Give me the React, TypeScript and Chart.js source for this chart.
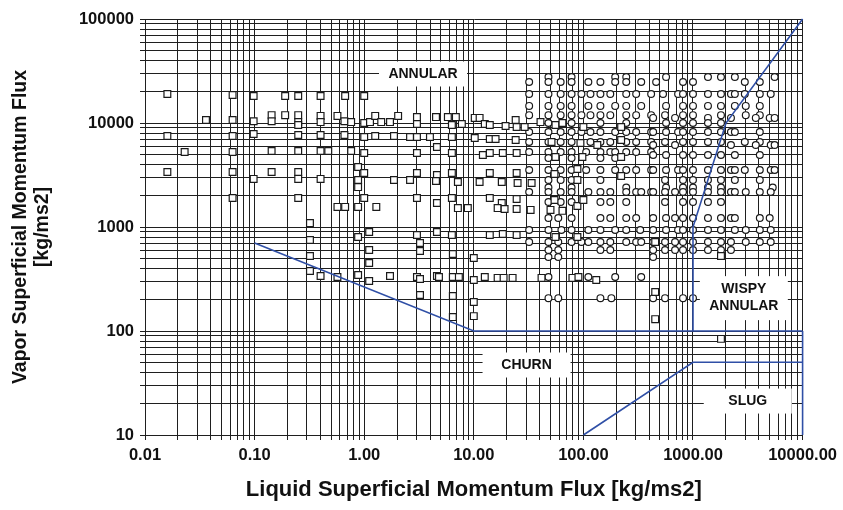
import React, { useEffect, useRef } from 'react';
import { Chart, registerables } from 'chart.js';

Chart.register(...registerables);

// Axis tick labels (decades)
const xTickLabels = ['0.01', '0.10', '1.00', '10.00', '100.00', '1000.00', '10000.00'];
const yTickLabels = ['10', '100', '1000', '10000', '100000'];

const xTitle = 'Liquid Superficial Momentum Flux [kg/ms2]';
const yTitle = ['Vapor Superficial Momentum Flux', '[kg/ms2]'];

// Open squares: [liquid flux, vapor flux]
const squarePoints: [number, number][] = [
  [0.016, 19000], [0.063, 18600], [0.098, 18200], [0.19, 18200], [0.25, 18200],
  [0.036, 10700], [0.063, 10700], [0.098, 10400], [0.143, 11900], [0.143, 10400], [0.19, 11900], [0.25, 11900], [0.25, 10200], [0.25, 9570],
  [0.016, 7500], [0.063, 7500], [0.098, 7840], [0.25, 7670],
  [0.023, 5260], [0.063, 5260], [0.143, 5380], [0.25, 5380],
  [0.016, 3380], [0.063, 3380], [0.143, 3380], [0.25, 3380], [0.25, 2900], [0.098, 2900],
  [0.063, 1900], [0.25, 1900], [0.32, 1090],
  [0.4, 18200], [0.67, 18200], [1.0, 18200],
  [0.4, 11700], [0.4, 10200], [0.57, 11700], [0.66, 10400], [0.76, 10200], [1.0, 10000], [1.13, 10200], [1.26, 11700], [1.43, 10200], [1.72, 10200], [2.04, 11700],
  [3.03, 11400], [3.03, 9780], [4.52, 11400], [5.8, 11400], [6.86, 11400], [6.31, 9570], [7.78, 9780], [10.2, 11200], [11.3, 11200], [12.6, 9780], [14.0, 9570], [19.5, 9360], [24.1, 10700], [24.6, 9160],
  [0.4, 7670], [0.66, 7670], [1.0, 7330], [1.26, 7500], [1.87, 7500], [2.62, 7330], [3.03, 7330], [3.98, 7330], [6.31, 7330], [10.2, 7180], [14.0, 7020], [15.8, 7020], [24.1, 6870],
  [0.4, 5380], [0.47, 5380], [0.76, 5380], [1.0, 5150], [3.03, 5150], [4.61, 5880], [6.31, 5150], [12.1, 4920], [14.0, 5150], [18.4, 5150], [24.6, 5150],
  [0.88, 3770], [1.0, 3300], [3.03, 3300], [4.61, 3160], [6.31, 3300], [14.0, 3300], [24.6, 3300],
  [0.4, 2900], [0.88, 2830], [1.87, 2830], [2.62, 2830], [4.52, 2770], [7.16, 2710], [11.3, 2710], [18.0, 2710], [25.1, 2650], [0.88, 2420],
  [1.0, 1900], [3.03, 1900], [6.31, 1900], [14.0, 1900], [24.6, 1860], [4.61, 1700], [18.0, 1700],
  [0.57, 1560], [0.67, 1560], [0.88, 1560], [1.29, 1560], [7.16, 1520], [8.82, 1520], [16.5, 1520], [19.1, 1490], [24.6, 1490],
  [1.11, 895], [0.88, 802], [3.03, 838], [4.61, 895], [6.31, 838], [14.0, 838], [18.4, 857], [24.6, 838],
  [0.32, 750], [3.23, 701], [1.11, 601], [3.23, 588], [0.32, 526], [1.11, 451], [6.44, 550], [10.0, 504],
  [0.32, 378], [0.4, 338], [0.57, 330], [0.88, 345], [1.11, 303], [1.72, 338], [3.03, 330], [3.23, 316], [4.61, 338], [4.81, 330], [6.44, 330], [7.31, 330], [10.0, 309], [12.6, 330], [16.5, 324], [18.7, 324], [22.6, 324],
  [3.23, 222], [6.44, 217], [10.0, 190], [6.44, 136], [10.0, 139],
  [29.1, 9160], [40.6, 10200], [55.6, 9570], [64.4, 10000], [100, 9160], [221, 9160],
  [51.2, 6570], [94, 6430], [134, 6140], [221, 6870],
  [55.6, 4710], [97.9, 4710], [221, 4710],
  [88.2, 3610], [54.5, 3230], [88.2, 2830], [33.7, 2650], [221, 3090],
  [33, 1460], [54.5, 1820], [50.1, 1460], [64.4, 1430], [88.2, 1590], [100, 1820],
  [55.6, 802], [88.2, 802],
  [41.5, 324], [79.4, 324], [90.1, 330], [131, 309],
  [452, 718], [452, 237], [452, 130], [1800, 526], [1800, 84],
];

// Open circles, listed per vapor-flux row: [vapor flux, liquid fluxes]
const circleRows: [number, number[]][] = [
  [27700, [48, 78, 195, 246, 568, 1370, 1800, 2410, 5560]],
  [24800, [32, 48, 62, 78, 111, 143, 195, 246, 337, 461, 811, 1000, 2970, 4070]],
  [19000, [32, 48, 62, 78, 96, 116, 143, 176, 246, 303, 415, 533, 731, 811, 1000, 1370, 1800, 2220, 2410, 2970, 4070, 5120]],
  [14600, [32, 48, 62, 78, 111, 143, 195, 246, 337, 568, 811, 1000, 1370, 1800, 2410, 3030, 4070]],
  [11900, [32, 48, 62, 78, 96, 116, 143, 176, 246, 303, 415, 556, 811, 1000, 1800, 3030, 4070]],
  [11200, [433, 686, 1370, 2220, 3740, 5010, 5560]],
  [10000, [48, 78, 143, 246, 568, 811, 1000, 1370, 1800]],
  [8190, [32, 48, 62, 78, 96, 116, 143, 195, 246, 303, 415, 433, 568, 731, 811, 1000, 1370, 1800, 2220, 2410, 4070]],
  [6570, [32, 48, 62, 78, 116, 143, 176, 246, 303, 415, 556, 811, 1000, 1370, 1800, 2970, 4070]],
  [6140, [433, 686, 2220, 3740, 5120, 5560]],
  [5260, [32, 48, 62, 78, 106, 143, 176, 195, 246, 303, 415]],
  [4920, [433, 568, 811, 1000, 1370, 1800, 2410, 4070]],
  [4600, [48, 78, 143, 195]],
  [3530, [32, 48, 62, 78, 106, 143, 195, 246, 303, 415, 433, 568, 731, 811, 1000, 1370, 1800, 2220, 2410, 2970, 4070, 5120, 5560]],
  [2830, [48, 62, 78, 143, 556, 811, 1000, 1370, 1800, 2410, 4070]],
  [2400, [48, 78, 246, 568, 811, 1000, 1370, 1800, 5340]],
  [2170, [32, 48, 62, 78, 111, 143, 176, 246, 303, 337, 415, 433, 556, 686, 811, 1000, 1370, 1800, 2220, 2410, 3030, 4070, 5120]],
  [1740, [48, 62, 78, 143, 176, 246, 556, 811, 1000, 1370, 1800]],
  [1220, [48, 59, 78, 143, 176, 246, 303, 433, 568, 686, 811, 1000, 1370, 1800, 2220, 2410, 4070, 5010]],
  [935, [32, 48, 63, 78, 111, 143, 195, 246, 330, 433, 568, 731, 811, 1000, 1370, 1800, 2410, 3030, 4070, 5120]],
  [718, [32, 48, 59, 78, 96, 111, 143, 176, 246, 303, 337, 433, 556, 686, 811, 1000, 1370, 1800, 2220, 3030, 4070, 5120]],
  [601, [48, 59, 143, 176, 433, 556, 686, 811, 1000, 1370, 1800, 2220]],
  [515, [48, 59, 433]],
  [330, [48, 111, 195, 337]],
  [207, [48, 59, 143, 180, 433, 556, 811, 1000]],
];

// Flow-regime boundaries
const boundaryAnnularChurn: [number, number][] = [[0.1, 700], [10, 100], [10000, 100]];
const boundaryWispy: [number, number][] = [[1000, 100], [1000, 1000], [2000, 10000], [10000, 100000]];
const boundarySlug: [number, number][] = [[100, 10], [1000, 50], [10000, 50]];
const boundaryRight: [number, number][] = [[10000, 10], [10000, 100]];

// Region labels anchored in data coordinates
const regionNames: string[][] = [['ANNULAR'], ['CHURN'], ['WISPY', 'ANNULAR'], ['SLUG']];
const regionX: number[] = [3.44, 30.3, 2910, 3160];
const regionY: number[] = [29600, 47.1, 207, 21.2];

const FONT = '"Liberation Sans", Arial, Helvetica, sans-serif';

function decadeTicks(labels: string[]) {
  const vals = labels.map((l) => parseFloat(l));
  const out: { value: number }[] = [];
  for (let i = 0; i < vals.length - 1; i++) {
    for (let m = 1; m <= 9; m++) out.push({ value: m * vals[i] });
  }
  out.push({ value: vals[vals.length - 1] });
  return out;
}

function labelFor(labels: string[], v: number) {
  for (const l of labels) {
    const n = parseFloat(l);
    if (Math.abs(v / n - 1) < 1e-6) return l;
  }
  return '';
}

export default function App() {
  const ref = useRef<HTMLCanvasElement | null>(null);

  useEffect(() => {
    if (!ref.current) return;
    const toPts = (arr: [number, number][]) => arr.map(([x, y]) => ({ x, y }));
    const squares = toPts(squarePoints);
    const circles = circleRows.flatMap(([y, xs]) => xs.map((x) => ({ x, y })));
    const blue = '#2f4fa6';
    const lineDs = (label: string, data: [number, number][]) => ({
      label,
      data: toPts(data),
      showLine: true,
      borderColor: blue,
      backgroundColor: blue,
      borderWidth: 1.6,
      pointRadius: 0,
      pointHoverRadius: 0,
      fill: false,
      tension: 0,
      clip: false as any,
    });

    const labelPlugin = {
      id: 'regionLabels',
      beforeDatasetsDraw(chart: any) {
        const { ctx } = chart;
        const xs = chart.scales.x;
        const ys = chart.scales.y;
        ctx.save();
        ctx.font = `bold 14px ${FONT}`;
        ctx.textAlign = 'center';
        ctx.textBaseline = 'middle';
        regionNames.forEach((lines, i) => {
          const cx = xs.getPixelForValue(regionX[i]);
          const cy = ys.getPixelForValue(regionY[i]);
          const lh = 17;
          const w = 88;
          const h = lines.length > 1 ? 44 : 25;
          ctx.fillStyle = '#ffffff';
          ctx.fillRect(cx - w / 2, cy - h / 2, w, h);
          ctx.fillStyle = '#111111';
          lines.forEach((t, j) => {
            ctx.fillText(t, cx, cy + (j - (lines.length - 1) / 2) * lh);
          });
        });
        ctx.restore();
      },
    };

    const gridColor = '#1f1f1f';

    const chart = new Chart(ref.current, {
      type: 'scatter',
      data: {
        datasets: [
          lineDs('b1', boundaryAnnularChurn),
          lineDs('b2', boundaryWispy),
          lineDs('b3', boundarySlug),
          lineDs('b4', boundaryRight),
          {
            label: 'squares',
            data: squares,
            pointStyle: 'rect',
            pointRadius: 4.8,
            borderColor: '#1a1a1a',
            backgroundColor: '#ffffff',
            pointBorderWidth: 1.2,
            borderWidth: 1.2,
          } as any,
          {
            label: 'circles',
            data: circles,
            pointStyle: 'circle',
            pointRadius: 3.4,
            borderColor: '#1a1a1a',
            backgroundColor: '#ffffff',
            pointBorderWidth: 1.2,
            borderWidth: 1.2,
          } as any,
        ],
      },
      options: {
        responsive: false,
        animation: false,
        events: [],
        layout: { padding: { left: 0, right: 38, top: 19, bottom: 0 } },
        plugins: {
          legend: { display: false },
          tooltip: { enabled: false },
        },
        scales: {
          x: {
            type: 'logarithmic',
            min: 0.01,
            max: 10000,
            afterBuildTicks: (s: any) => {
              s.ticks = decadeTicks(xTickLabels);
            },
            afterFit: (s: any) => {
              s.height = 75;
            },
            grid: { color: gridColor, lineWidth: 1, drawTicks: true, tickLength: 5, tickColor: gridColor },
            border: { color: gridColor, width: 1 },
            ticks: {
              autoSkip: false,
              maxRotation: 0,
              minRotation: 0,
              padding: 6,
              color: '#111',
              font: { family: FONT, size: 16.5, weight: 'bold' },
              callback: (v: any) => labelFor(xTickLabels, Number(v)),
            },
            title: {
              display: true,
              text: xTitle,
              color: '#111',
              font: { family: FONT, size: 22, weight: 'bold', lineHeight: 1.2 },
              padding: { top: 0, bottom: 7 },
            },
          },
          y: {
            type: 'logarithmic',
            min: 10,
            max: 100000,
            afterBuildTicks: (s: any) => {
              s.ticks = decadeTicks(yTickLabels);
            },
            afterFit: (s: any) => {
              s.width = 145;
            },
            grid: { color: gridColor, lineWidth: 1, drawTicks: true, tickLength: 5, tickColor: gridColor },
            border: { color: gridColor, width: 1 },
            ticks: {
              autoSkip: false,
              padding: 6,
              color: '#111',
              font: { family: FONT, size: 16.5, weight: 'bold' },
              callback: (v: any) => labelFor(yTickLabels, Number(v)),
            },
            title: {
              display: true,
              text: yTitle,
              color: '#111',
              font: { family: FONT, size: 19.5, weight: 'bold', lineHeight: 1.15 },
              padding: { top: 9, bottom: 0 },
            },
          },
        },
      },
      plugins: [labelPlugin],
    } as any);

    return () => chart.destroy();
  }, []);

  return (
    <div style={{ position: 'absolute', left: 0, top: 0, width: 843, height: 510, background: '#fff' }}>
      <canvas ref={ref} width={843} height={510} style={{ display: 'block', width: 843, height: 510 }} />
    </div>
  );
}
